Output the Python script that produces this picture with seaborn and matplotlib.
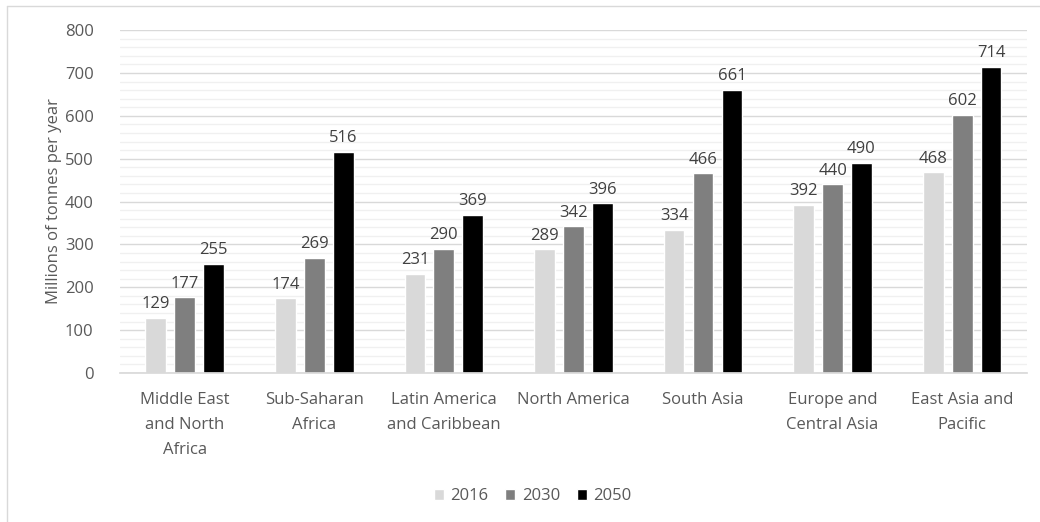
import matplotlib
matplotlib.use("Agg")
import matplotlib.pyplot as plt
import seaborn as sns
import pandas as pd
from matplotlib.ticker import MultipleLocator

regions = ["Middle East\nand North\nAfrica", "Sub-Saharan\nAfrica", "Latin America\nand Caribbean",
           "North America", "South Asia", "Europe and\nCentral Asia", "East Asia and\nPacific"]
years = ["2016", "2030", "2050"]
waste_2016 = [129, 174, 231, 289, 334, 392, 468]
waste_2030 = [177, 269, 290, 342, 466, 440, 602]
waste_2050 = [255, 516, 369, 396, 661, 490, 714]

df = pd.DataFrame({
    "region": regions * 3,
    "year": [y for y in years for _ in regions],
    "value": waste_2016 + waste_2030 + waste_2050,
})

sns.set_theme(style="white")
plt.rcParams["font.family"] = ["Open Sans", "DejaVu Sans"]
text_col = "#595959"

fig = plt.figure(figsize=(10.4, 5.22), dpi=100)
ax = fig.add_axes([0.1154, 0.2854, 0.872, 0.657])

palette = {"2016": "#d9d9d9", "2030": "#7f7f7f", "2050": "#000000"}
sns.barplot(data=df, x="region", y="value", hue="year", palette=palette,
            width=0.67, gap=0.28, ax=ax, legend=True, saturation=1)

for cont in ax.containers:
    ax.bar_label(cont, padding=4, fontsize=12, color="#404040")

ax.set_ylim(0, 800)
ax.yaxis.set_major_locator(MultipleLocator(100))
ax.yaxis.set_minor_locator(MultipleLocator(20))
ax.grid(axis="y", which="major", color="#d9d9d9", lw=1)
ax.grid(axis="y", which="minor", color="#f0f0f0", lw=1)
ax.set_axisbelow(True)
ax.set_xlim(-0.5, len(regions) - 0.5)
for s in ["top", "right", "left"]:
    ax.spines[s].set_visible(False)
ax.spines["bottom"].set_color("#d9d9d9")

ax.tick_params(axis="y", which="both", length=0, labelsize=12, labelcolor=text_col, pad=19)
ax.tick_params(axis="x", length=0, labelsize=12, labelcolor=text_col, pad=14)
for lbl in ax.get_xticklabels():
    lbl.set_linespacing(1.75)
ax.set_xlabel("")
ax.set_ylabel("Millions of tonnes per year", fontsize=12, color=text_col, labelpad=2)

leg = ax.legend(loc="center", bbox_to_anchor=(0.455, -0.36), ncol=3, frameon=False,
                fontsize=12, handlelength=0.6, handleheight=0.6, handletextpad=0.4,
                columnspacing=1.0, labelcolor=text_col)

# light frame around the chart
fig.add_artist(plt.Line2D([0.0067, 0.0067], [0.0, 0.9885], color="#d9d9d9", lw=1, transform=fig.transFigure))
fig.add_artist(plt.Line2D([0.0067, 1.0], [0.9885, 0.9885], color="#d9d9d9", lw=1, transform=fig.transFigure))

fig.savefig("out.png", dpi=100)
